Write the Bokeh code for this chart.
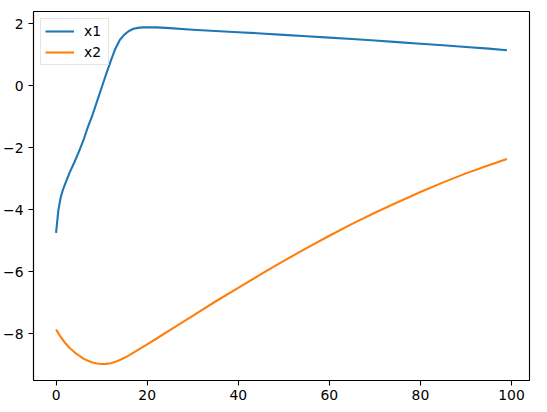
from bokeh.plotting import figure
from bokeh.models import Range1d, FixedTicker, Legend, LegendItem
from bokeh.embed import file_html
from bokeh.resources import INLINE

# ---- data ----
steps = [0, 0.5, 1, 1.5, 2, 3, 4, 5, 6, 7, 8, 9, 10, 11, 12, 13, 14, 15, 16, 17, 18, 19, 20,
         22, 25, 30, 35, 40, 45, 50, 55, 60, 65, 70, 75, 80, 85, 90, 95, 99]
x1 = [-4.75, -4.03, -3.62, -3.36, -3.17, -2.80, -2.48, -2.14, -1.77, -1.33, -0.95, -0.51, -0.07,
      0.37, 0.79, 1.18, 1.47, 1.64, 1.76, 1.83, 1.86, 1.875, 1.88,
      1.875, 1.85, 1.80, 1.76, 1.72, 1.68, 1.635, 1.59, 1.545, 1.50, 1.45, 1.40,
      1.35, 1.30, 1.245, 1.19, 1.14]
x2 = [-7.86, -7.98, -8.10, -8.20, -8.30, -8.46, -8.59, -8.70, -8.80, -8.87, -8.925, -8.96, -8.975,
      -8.97, -8.95, -8.905, -8.845, -8.775, -8.695, -8.61, -8.52, -8.43, -8.34,
      -8.16, -7.88, -7.42, -6.96, -6.52, -6.08, -5.65, -5.24, -4.84, -4.46, -4.10,
      -3.76, -3.43, -3.12, -2.83, -2.57, -2.37]
series_names = ["x1", "x2"]
series_colors = ["#1f77b4", "#ff7f0e"]
x_ticks = [0, 20, 40, 60, 80, 100]
y_ticks = [-8, -6, -4, -2, 0, 2]

FONT = "DejaVu Sans"
FS = "13.9px"

p = figure(width=547, height=412, output_backend="svg", toolbar_location=None,
           x_range=Range1d(-4.95, 103.95), y_range=Range1d(-9.506, 2.387),
           min_border_left=33, min_border_right=18, min_border_top=11, min_border_bottom=32)
p.background_fill_color = "white"
p.border_fill_color = "white"
p.outline_line_color = "black"
p.outline_line_width = 1.1
p.xgrid.visible = False
p.ygrid.visible = False

r1 = p.line(steps, x1, line_color=series_colors[0], line_width=2.1, line_join="round")
r2 = p.line(steps, x2, line_color=series_colors[1], line_width=2.1, line_join="round")

for ax, ticks in ((p.xaxis[0], x_ticks), (p.yaxis[0], y_ticks)):
    ax.ticker = FixedTicker(ticks=ticks)
    ax.major_label_overrides = {t: (str(t).replace("-", "\u2212")) for t in ticks}
    ax.axis_line_color = "black"
    ax.axis_line_width = 1.1
    ax.major_tick_line_color = "black"
    ax.major_tick_line_width = 1.1
    ax.major_tick_out = 5
    ax.major_tick_in = 0
    ax.minor_tick_line_color = None
    ax.major_label_text_font = FONT
    ax.major_label_text_font_size = FS
    ax.major_label_text_color = "black"
p.xaxis[0].major_label_standoff = 4
p.yaxis[0].major_label_standoff = 5

legend = Legend(items=[LegendItem(label=series_names[0], renderers=[r1]),
                       LegendItem(label=series_names[1], renderers=[r2])],
                location="top_left")
legend.margin = 7
legend.padding = 4
legend.spacing = 5
legend.glyph_width = 29
legend.glyph_height = 16
legend.label_height = 16
legend.label_standoff = 10
legend.label_text_font = FONT
legend.label_text_font_size = FS
legend.label_text_color = "black"
legend.border_line_color = "#cccccc"
legend.border_line_width = 1
legend.background_fill_alpha = 0.8
p.add_layout(legend)

open("out.html", "w").write(file_html(p, INLINE))
